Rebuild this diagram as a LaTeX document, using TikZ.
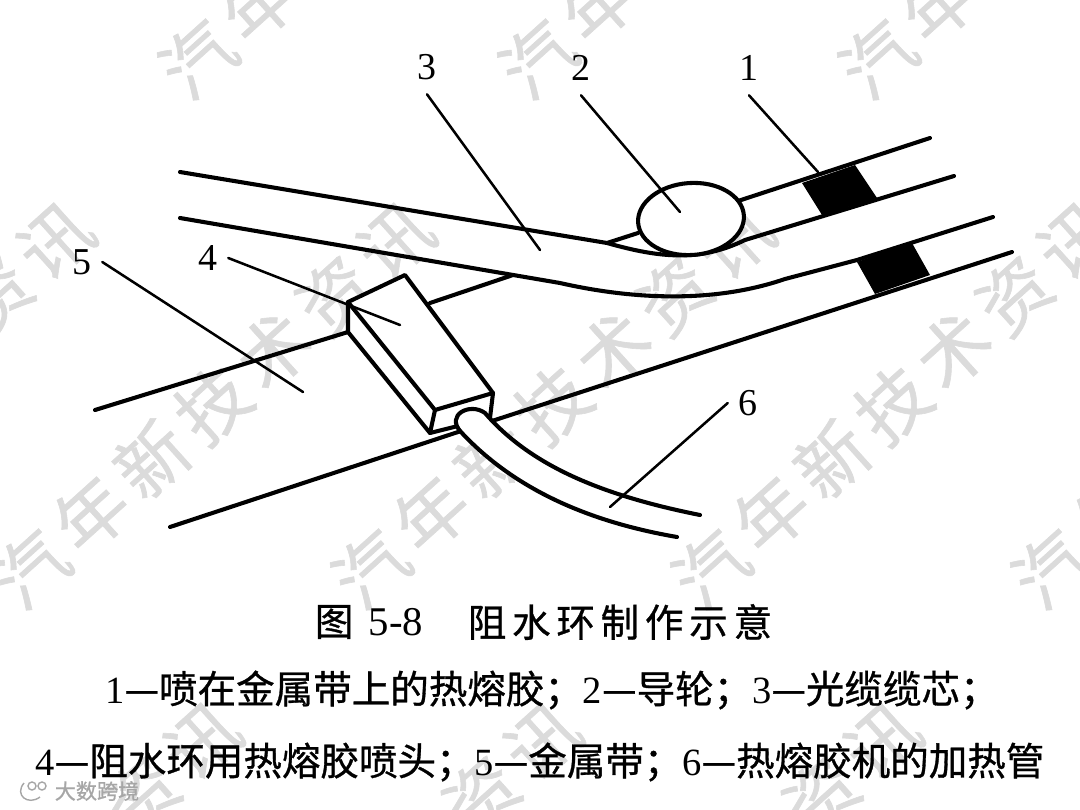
\documentclass[tikz,border=0pt]{standalone}
\usepackage{fontspec}
\setmainfont{Liberation Serif}
\newfontfamily\cjk[FakeBold=0.8]{Noto Sans CJK SC}
\newfontfamily\cjkwide[LetterSpace=15,FakeBold=0.8]{Noto Sans CJK SC}
\newfontfamily\wmfont[LetterSpace=14,FakeBold=0.8]{Noto Sans CJK SC}
\usetikzlibrary{calc}
\definecolor{wmgray}{gray}{0.86}
\tikzstyle{edge}=[line width=2.9pt,line cap=round,line join=round,black]
\tikzstyle{leader}=[line width=1.8pt,line cap=round,black]
\tikzstyle{num}=[inner sep=0pt,minimum width=1cm,minimum height=1.35cm,font=\fontsize{27}{27}\selectfont]
\tikzstyle{wmark}=[inner sep=0pt,rotate=42,text=wmgray,font=\wmfont\fontsize{51}{51}\selectfont]
\tikzstyle{capt}=[inner sep=0pt,font=\fontsize{27.4}{27.4}\selectfont]
\begin{document}
\begin{tikzpicture}[x=0.025cm,y=-0.025cm]
\useasboundingbox (0,0) rectangle (1080,810);
\fill[white] (0,0) rectangle (1080,810);
\node[wmark] (w1) at (380,-105) {汽年新技术资讯};
\node[wmark] (w2) at (720,-105) {汽年新技术资讯};
\node[wmark] (w3) at (1060,-105) {汽年新技术资讯};
\node[wmark] (w4) at (-127,405) {汽年新技术资讯};
\node[wmark] (w5) at (213,405) {汽年新技术资讯};
\node[wmark] (w6) at (553,405) {汽年新技术资讯};
\node[wmark] (w7) at (893,405) {汽年新技术资讯};
\node[wmark] (w8) at (1233,405) {汽年新技术资讯};
\node[wmark] (w9) at (20,905) {汽年新技术资讯};
\node[wmark] (w10) at (360,905) {汽年新技术资讯};
\node[wmark] (w11) at (700,905) {汽年新技术资讯};
\node[wmark] (w12) at (1040,905) {汽年新技术资讯};
\draw[edge] (95,410) -- (348,332);
\draw[edge] (430,303) -- (513,275);
\draw[edge] (607,243) -- (638,233);
\draw[edge] (738,201) -- (930,138);
\draw[edge] (170,527) -- (455,433) -- (1012,252);
\draw[edge] (180,172) -- (607,243) .. controls (660,258) and (700,262) .. (745,240) -- (954,176);
\draw[edge] (180,218) -- (560,283) .. controls (635,300) and (715,303) .. (785,279) -- (857,260) -- (993,217);
\fill[black] (802,183) -- (855,165) -- (877,198) -- (822,215) -- cycle;
\fill[black] (857,262) -- (912,243) -- (930,275) -- (875,294) -- cycle;
\draw[edge,fill=white,rotate around={4:(691,219)}] (691,219) ellipse (53 and 36);
\draw[edge,fill=white] (348,302) -- (405,275) -- (493,393) -- (490,418) -- (430,433) -- (348,332) -- cycle;
\draw[edge] (348,302) -- (435,410) -- (493,393);
\draw[edge] (435,410) -- (430,433);
\draw[edge,fill=white] (700,515) .. controls (600,495) and (530,465) .. (485,413) .. controls (470,402) and (445,415) .. (461,432) .. controls (515,490) and (590,522) .. (677,537);
\node[num] (n1) at (749,68) {1};
\node[num] (n2) at (581,68) {2};
\node[num] (n3) at (427,67) {3};
\node[num] (n4) at (208,258) {4};
\node[num] (n5) at (82,262) {5};
\node[num] (n6) at (748,403) {6};
\coordinate (p1) at (818,172);
\coordinate (p2) at (680,212);
\coordinate (p3) at (540,250);
\coordinate (p4) at (400,325);
\coordinate (p5) at (303,392);
\coordinate (p6) at (610,507);
\draw[leader] (n1.south) -- (p1);
\draw[leader] (n2.south) -- (p2);
\draw[leader] (n3.south) -- (p3);
\draw[leader] (n4.east) -- (p4);
\draw[leader] (n5.east) -- (p5);
\draw[leader] (n6.west) -- (p6);
\node[capt] (fig) at (369,622) {{\cjk 图}\hspace{0.4em}{\fontsize{29}{29}\selectfont 5-8}};
\node[capt] (title) at (620,622) {\cjkwide 阻水环制作示意};
\node[capt] (line1) at (552,690) {1{\cjk —喷在金属带上的热熔胶；}2{\cjk —导轮；}3{\cjk —光缆缆芯；}};
\node[capt] (line2) at (540,762) {4{\cjk —阻水环用热熔胶喷头；}5{\cjk —金属带；}6{\cjk —热熔胶机的加热管}};
\node[inner sep=0pt,text=gray!70,font=\cjk\fontsize{15}{15}\selectfont] (brand) at (97,791) {大数跨境};
\draw[gray!70,line width=1pt] (24,783) .. controls (14,795) and (28,806) .. (40,797);
\draw[gray!70,line width=1pt] (32,786) circle (4);
\draw[gray!70,line width=1pt] (42,786) circle (4);
\end{tikzpicture}
\end{document}
